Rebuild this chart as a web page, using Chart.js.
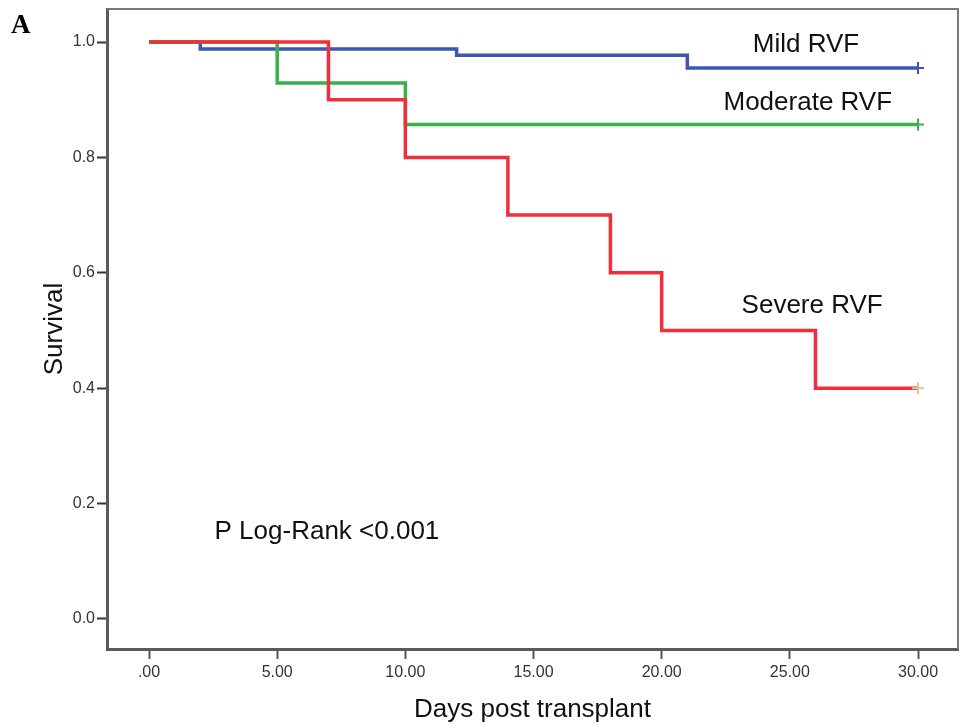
<!DOCTYPE html>
<html>
<head>
<meta charset="utf-8">
<script src="https://cdn.jsdelivr.net/npm/chart.js@4/dist/chart.umd.min.js"></script>
<style>
  html, body { margin: 0; padding: 0; background: #fff; }
  #wrap { width: 960px; height: 727px; position: relative; }
</style>
</head>
<body>
<div id="wrap"><canvas id="c" width="960" height="727"></canvas></div>
<script>
// Kaplan-Meier step data (days post transplant, survival)
const mildDays = [0, 2, 12, 21, 30];
const mildSurv = [1.0, 0.988, 0.977, 0.955, 0.955];
const moderateDays = [0, 5, 10, 30];
const moderateSurv = [1.0, 0.929, 0.857, 0.857];
const severeDays = [0, 7, 10, 14, 18, 20, 26, 30];
const severeSurv = [1.0, 0.9, 0.8, 0.7, 0.6, 0.5, 0.4, 0.4];

const xTicks = [0, 5, 10, 15, 20, 25, 30];
const xTickLabels = ['.00', '5.00', '10.00', '15.00', '20.00', '25.00', '30.00'];
const yTicks = [0, 0.2, 0.4, 0.6, 0.8, 1.0];
const yTickLabels = ['0.0', '0.2', '0.4', '0.6', '0.8', '1.0'];

const seriesLabels = ['Mild RVF', 'Moderate RVF', 'Severe RVF'];
const pText = 'P Log-Rank <0.001';

const toPts = (xs, ys) => xs.map((x, i) => ({ x: x, y: ys[i] }));
const FONT = 'Liberation Sans, Arial, sans-serif';

function lastOnly(n, r) { return Array.from({ length: n }, (_, i) => i === n - 1 ? r : 0); }

const annotations = [
  { text: seriesLabels[0], x: 25.63, y: 0.995 },
  { text: seriesLabels[1], x: 25.7, y: 0.894 },
  { text: seriesLabels[2], x: 25.87, y: 0.5425 },
  { text: pText, x: 6.94, y: 0.151 }
];

const decor = {
  id: 'decor',
  afterDraw(chart) {
    const { ctx, chartArea: a, scales } = chart;
    ctx.save();
    // top and right frame
    ctx.strokeStyle = '#7a7a7a';
    ctx.lineWidth = 2;
    ctx.beginPath();
    ctx.moveTo(a.left, a.top);
    ctx.lineTo(a.right, a.top);
    ctx.lineTo(a.right, a.bottom);
    ctx.stroke();
    // text labels
    ctx.fillStyle = '#111';
    ctx.font = '26px ' + FONT;
    ctx.textAlign = 'center';
    ctx.textBaseline = 'middle';
    annotations.forEach(t => {
      ctx.fillText(t.text, scales.x.getPixelForValue(t.x), scales.y.getPixelForValue(t.y));
    });
    // panel letter
    ctx.font = 'bold 27px Liberation Serif, Times New Roman, serif';
    ctx.textAlign = 'left';
    ctx.textBaseline = 'alphabetic';
    ctx.fillStyle = '#000';
    ctx.fillText('A', 11, 33);
    ctx.restore();
  }
};

new Chart(document.getElementById('c'), {
  type: 'line',
  data: {
    datasets: [
      {
        label: seriesLabels[0],
        data: toPts(mildDays, mildSurv),
        order: 2,
        borderColor: '#3c56b4',
        backgroundColor: '#3c56b4',
        borderWidth: 3.5,
        stepped: 'before',
        pointStyle: 'cross',
        pointRadius: lastOnly(mildDays.length, 6),
        pointBorderWidth: 2,
        pointBorderColor: '#3c56b4'
      },
      {
        label: seriesLabels[1],
        data: toPts(moderateDays, moderateSurv),
        order: 1,
        borderColor: '#36b44a',
        backgroundColor: '#36b44a',
        borderWidth: 3.5,
        stepped: 'before',
        pointStyle: 'cross',
        pointRadius: lastOnly(moderateDays.length, 6),
        pointBorderWidth: 2,
        pointBorderColor: '#36b44a'
      },
      {
        label: seriesLabels[2],
        data: toPts(severeDays, severeSurv),
        order: 0,
        borderColor: '#f22e3a',
        backgroundColor: '#f22e3a',
        borderWidth: 3.5,
        stepped: 'before',
        pointStyle: 'cross',
        pointRadius: lastOnly(severeDays.length, 6),
        pointBorderWidth: 2,
        pointBorderColor: '#cfcf9e'
      }
    ]
  },
  options: {
    responsive: false,
    animation: false,
    layout: { autoPadding: false, padding: { top: 9, right: 2, left: 0, bottom: 0 } },
    plugins: { legend: { display: false }, tooltip: { enabled: false } },
    elements: { line: { tension: 0 } },
    scales: {
      x: {
        type: 'linear',
        min: -1.64,
        max: 31.56,
        afterFit(s) { s.height = 78; s.paddingLeft = 0; s.paddingRight = 0; },
        afterBuildTicks(s) { s.ticks = xTicks.map(v => ({ value: v })); },
        ticks: {
          autoSkip: false,
          maxRotation: 0,
          padding: 4,
          color: '#333',
          font: { family: FONT, size: 16 },
          callback: (v) => xTickLabels[xTicks.indexOf(v)]
        },
        grid: {
          drawOnChartArea: false,
          drawTicks: true,
          tickLength: 10,
          tickWidth: 2,
          tickColor: '#555'
        },
        border: { display: true, color: '#5a5a5a', width: 3 },
        title: {
          display: true,
          text: 'Days post transplant',
          color: '#111',
          font: { family: FONT, size: 26 },
          padding: { top: 0, bottom: 2 }
        }
      },
      y: {
        type: 'linear',
        min: -0.052,
        max: 1.0572,
        afterFit(s) { s.width = 107; s.paddingTop = 0; s.paddingBottom = 0; },
        afterBuildTicks(s) { s.ticks = yTicks.map(v => ({ value: v })); },
        ticks: {
          autoSkip: false,
          padding: 2,
          color: '#333',
          font: { family: FONT, size: 16 },
          callback: (v) => yTickLabels[yTicks.findIndex(t => Math.abs(t - v) < 1e-9)]
        },
        grid: {
          drawOnChartArea: false,
          drawTicks: true,
          tickLength: 10,
          tickWidth: 2,
          tickColor: '#333'
        },
        border: { display: true, color: '#5a5a5a', width: 3 },
        title: {
          display: true,
          text: 'Survival',
          color: '#111',
          font: { family: FONT, size: 26 },
          padding: { top: 39, bottom: 0 }
        }
      }
    }
  },
  plugins: [decor]
});
</script>
</body>
</html>
